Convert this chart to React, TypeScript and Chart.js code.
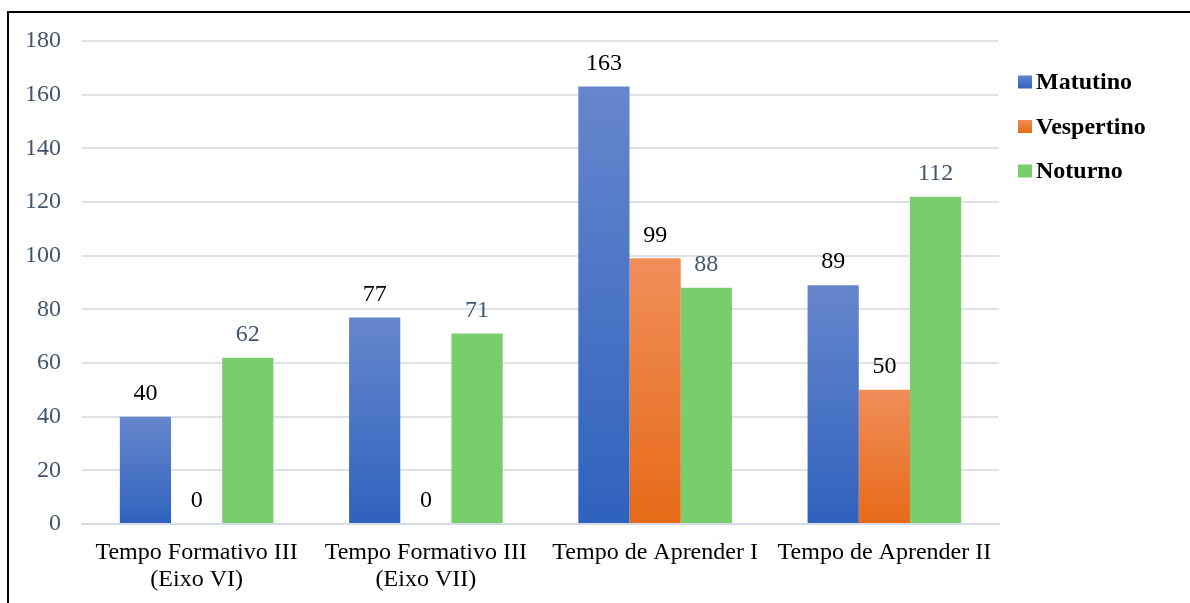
import React, { useEffect, useRef } from "react";
import { Chart, registerables } from "chart.js";

Chart.register(...registerables);

const categories: (string | string[])[] = [
  ["Tempo Formativo III", "(Eixo VI)"],
  ["Tempo Formativo III", "(Eixo VII)"],
  "Tempo de Aprender I",
  "Tempo de Aprender II",
];
const seriesNames = ["Matutino", "Vespertino", "Noturno"];
const matutino = [40, 77, 163, 89];
const vespertino = [0, 0, 99, 50];
const noturno = [62, 71, 88, 122];
const matutinoLabels = ["40", "77", "163", "89"];
const vespertinoLabels = ["0", "0", "99", "50"];
const noturnoLabels = ["62", "71", "88", "112"];
const yTicks = [0, 20, 40, 60, 80, 100, 120, 140, 160, 180];

const FONT = "'Liberation Serif', 'Times New Roman', serif";
const SLATE = "#44546A";

const gradStops: [string, string][] = [
  ["#6686CC", "#2F62BE"],
  ["#F08E5A", "#E66A17"],
  ["#78CE6B", "#78CE6B"],
];
const labelColors = ["#000000", "#000000", SLATE];
const labelSets = [matutinoLabels, vespertinoLabels, noturnoLabels];

function barGradient(ctx: any, si: number) {
  const chart = ctx.chart;
  if (!chart.chartArea || !chart.scales || !chart.scales.y || ctx.raw === undefined) {
    return gradStops[si][1];
  }
  const y = chart.scales.y;
  const top = y.getPixelForValue(ctx.raw);
  const bottom = y.getPixelForValue(0);
  if (!isFinite(top) || !isFinite(bottom) || Math.abs(bottom - top) < 1) return gradStops[si][1];
  const g = chart.ctx.createLinearGradient(0, top, 0, bottom);
  g.addColorStop(0, gradStops[si][0]);
  g.addColorStop(1, gradStops[si][1]);
  return g;
}

const dataLabelPlugin = {
  id: "dataLabels",
  afterDatasetsDraw(chart: any) {
    const ctx = chart.ctx;
    ctx.save();
    ctx.font = `24px ${FONT}`;
    ctx.textAlign = "center";
    ctx.textBaseline = "middle";
    chart.data.datasets.forEach((_ds: any, i: number) => {
      const meta = chart.getDatasetMeta(i);
      meta.data.forEach((el: any, j: number) => {
        ctx.fillStyle = labelColors[i];
        ctx.fillText(labelSets[i][j], el.x, el.y - 23);
      });
    });
    ctx.restore();
  },
};

const legendPlugin = {
  id: "customLegend",
  afterDraw(chart: any) {
    const ctx = chart.ctx;
    const area = chart.chartArea;
    ctx.save();
    ctx.font = `bold 24px ${FONT}`;
    ctx.textAlign = "left";
    ctx.textBaseline = "middle";
    seriesNames.forEach((name, i) => {
      const cy = area.top + 41 + i * 44.5;
      const bx = area.right + 19;
      const g = ctx.createLinearGradient(0, cy - 7, 0, cy + 7);
      g.addColorStop(0, gradStops[i][0]);
      g.addColorStop(1, gradStops[i][1]);
      ctx.fillStyle = g;
      ctx.fillRect(bx, cy - 6.5, 14, 13);
      ctx.fillStyle = "#000000";
      ctx.fillText(name, bx + 18, cy + 1);
    });
    ctx.restore();
  },
};

export default function App() {
  const canvasRef = useRef<HTMLCanvasElement | null>(null);

  useEffect(() => {
    document.documentElement.style.overflow = "hidden";
    document.body.style.overflow = "hidden";
    const canvas = canvasRef.current;
    if (!canvas) return;
    const values = [matutino, vespertino, noturno];
    const chart = new Chart(canvas, {
      type: "bar",
      data: {
        labels: categories,
        datasets: values.map((vals, si) => ({
          label: seriesNames[si],
          data: vals,
          backgroundColor: (ctx: any) => barGradient(ctx, si),
          borderWidth: 0,
          barPercentage: 1,
          categoryPercentage: 0.67,
        })),
      },
      options: {
        animation: false,
        responsive: true,
        maintainAspectRatio: false,
        layout: { padding: { left: 17, right: 191, top: 28, bottom: 9 } },
        plugins: {
          legend: { display: false },
          tooltip: { enabled: false },
        },
        scales: {
          x: {
            grid: { display: false, drawTicks: false },
            border: { display: true, color: "#D6DCE5", width: 2 },
            afterFit: (axis: any) => {
              axis.height = 70;
              axis.paddingLeft = 0;
              axis.paddingRight = 0;
            },
            ticks: {
              color: "#000000",
              font: { family: FONT, size: 24, lineHeight: 1.12 },
              padding: 15,
              maxRotation: 0,
              autoSkip: false,
            },
          },
          y: {
            min: 0,
            max: 180,
            afterBuildTicks: (axis: any) => {
              axis.ticks = yTicks.map((v) => ({ value: v }));
            },
            afterFit: (axis: any) => {
              axis.width = 56;
              axis.paddingTop = 0;
              axis.paddingBottom = 0;
            },
            grid: { color: "#DEE2E8", lineWidth: 2, drawTicks: false },
            border: { display: false },
            ticks: {
              color: SLATE,
              font: { family: FONT, size: 24 },
              padding: 21,
            },
          },
        },
      },
      plugins: [dataLabelPlugin, legendPlugin],
    });
    return () => chart.destroy();
  }, []);

  return (
    <>
      <div
        style={{
          position: "fixed",
          left: 7,
          top: 11,
          width: 1220,
          height: 640,
          border: "2px solid #000",
          boxSizing: "border-box",
          background: "#fff",
        }}
      />
      <div style={{ position: "fixed", left: 9, top: 13, width: 1181, height: 590 }}>
        <canvas ref={canvasRef} />
      </div>
    </>
  );
}
